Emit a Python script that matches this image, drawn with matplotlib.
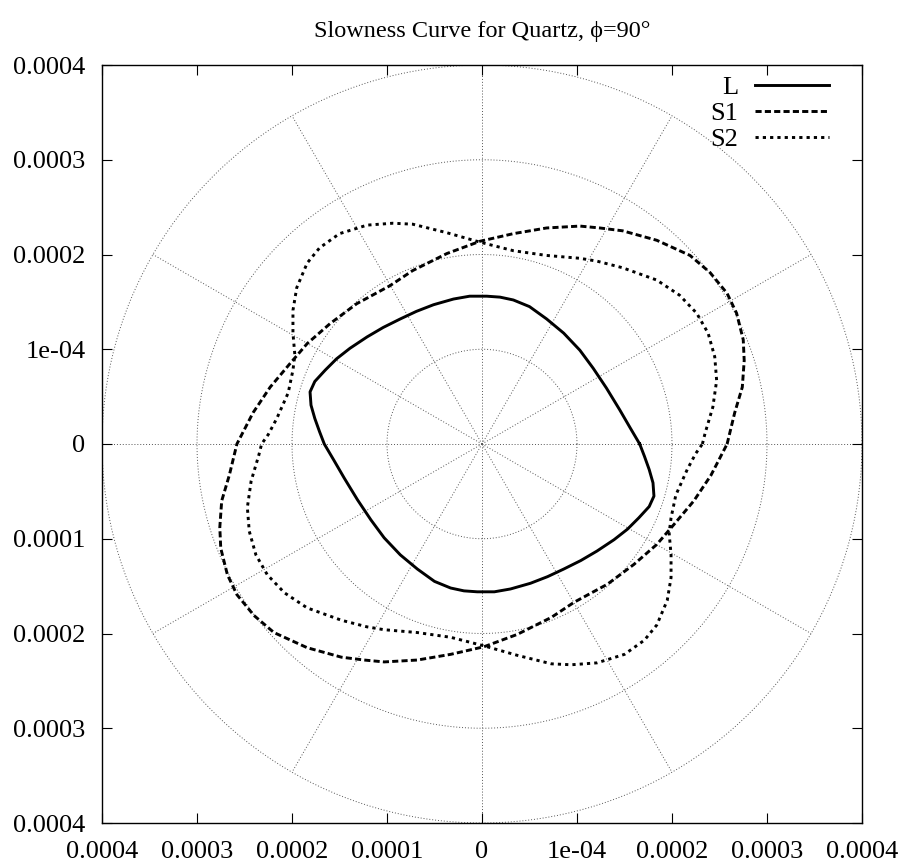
import numpy as np
import matplotlib.pyplot as plt

# slowness values, units of 1e-4, upper half (y >= 0),
# going counter-clockwise from +x. The curves are centrosymmetric, so the
# lower half is the same points negated.
L_x = [1.66, 1.56, 1.45, 1.31, 1.17, 1.03, 0.86, 0.68, 0.50, 0.33, 0.19, 0.05,
       -0.13, -0.30, -0.51, -0.69, -0.86, -1.04, -1.21, -1.39, -1.53, -1.65,
       -1.76, -1.81, -1.80, -1.76, -1.71, -1.66]
L_y = [0.00, 0.17, 0.36, 0.59, 0.80, 0.99, 1.17, 1.32, 1.45, 1.52, 1.55, 1.56,
       1.56, 1.53, 1.47, 1.40, 1.32, 1.23, 1.13, 1.01, 0.90, 0.78,
       0.66, 0.55, 0.41, 0.27, 0.13, 0.00]

S1_x = [2.58, 2.66, 2.74, 2.76, 2.75, 2.68, 2.58, 2.40, 2.19, 1.84, 1.48, 1.24,
        1.03, 0.68, 0.33, -0.02, -0.37, -0.73, -0.97, -1.32, -1.60, -1.84,
        -2.02, -2.23, -2.41, -2.58]
S1_y = [0.00, 0.33, 0.60, 0.88, 1.10, 1.38, 1.59, 1.81, 1.99, 2.15, 2.25, 2.28,
        2.30, 2.28, 2.22, 2.14, 2.01, 1.83, 1.67, 1.48, 1.27, 1.06,
        0.85, 0.60, 0.33, 0.00]

S2_x = [2.32, 2.35, 2.43, 2.47, 2.45, 2.38, 2.26, 2.08, 1.84, 1.48, 1.21, 1.03,
        0.68, 0.33, -0.02, -0.37, -0.73, -0.94, -1.21, -1.50, -1.71, -1.84,
        -1.95, -1.99, -1.99, -1.97, -1.99, -2.04, -2.16, -2.25, -2.32]
S2_y = [0.00, 0.12, 0.39, 0.67, 0.92, 1.17, 1.38, 1.57, 1.73, 1.86, 1.93, 1.96,
        1.99, 2.04, 2.13, 2.23, 2.32, 2.33, 2.31, 2.22, 2.07, 1.91,
        1.65, 1.41, 1.17, 0.94, 0.78, 0.54, 0.27, 0.10, 0.00]

tick_pos = [-4, -3, -2, -1, 0, 1, 2, 3, 4]
tick_labels = ['0.0004', '0.0003', '0.0002', '0.0001', '0', '1e-04', '0.0002', '0.0003', '0.0004']
grid_r = [1, 2, 3, 4]
grid_deg = [0, 30, 60, 90, 120, 150, 180, 210, 240, 270, 300, 330]

plt.rcParams['font.family'] = ['Liberation Serif', 'DejaVu Serif']
plt.rcParams['font.size'] = 19

fig = plt.figure(figsize=(9.04, 8.67), dpi=100)
ax = fig.add_axes([102 / 904, 44 / 867, 760 / 904, 758 / 867])

# polar grid
gs = dict(color='#555555', lw=0.7, ls=(0, (1, 2)), zorder=1)
t = np.linspace(0, 2 * np.pi, 400)
for r in grid_r:
    ax.plot(r * 1e-4 * np.cos(t), r * 1e-4 * np.sin(t), **gs)
for d in grid_deg:
    a = np.deg2rad(d)
    ax.plot([0, 4e-4 * np.cos(a)], [0, 4e-4 * np.sin(a)], **gs)


def closed(xs, ys):
    xs = np.array(xs) * 1e-4
    ys = np.array(ys) * 1e-4
    return np.concatenate([xs, -xs]), np.concatenate([ys, -ys])


x, y = closed(L_x, L_y)
ax.plot(x, y, color='black', lw=2.1, label='L', zorder=3, solid_joinstyle='round')
x, y = closed(S1_x, S1_y)
ax.plot(x, y, color='black', lw=2.1, ls=(0, (2.1, 1.1)), label='S1', zorder=3)
x, y = closed(S2_x, S2_y)
ax.plot(x, y, color='black', lw=2.1, ls=(0, (1.1, 1.4)), label='S2', zorder=3)

ax.set_xlim(-4e-4, 4e-4)
ax.set_ylim(-4e-4, 4e-4)
ax.set_xticks([v * 1e-4 for v in tick_pos])
ax.set_xticklabels(tick_labels)
ax.set_yticks([v * 1e-4 for v in tick_pos])
ax.set_yticklabels(tick_labels)
ax.tick_params(direction='in', length=7, width=0.8, top=True, right=True,
               labelsize=19)
ax.tick_params(axis='y', pad=12)
ax.tick_params(axis='x', pad=13)
for s in ax.spines.values():
    s.set_linewidth(1.0)

ax.set_title('Slowness Curve for Quartz, ϕ=90°', fontsize=17.5, pad=20)

ax.legend(loc='upper right', bbox_to_anchor=(0.957, 0.986), markerfirst=False,
          frameon=False, handlelength=2.8, handletextpad=0.65, labelspacing=0.1,
          borderpad=0, borderaxespad=0, fontsize=19)

fig.savefig('out.png', dpi=100)
